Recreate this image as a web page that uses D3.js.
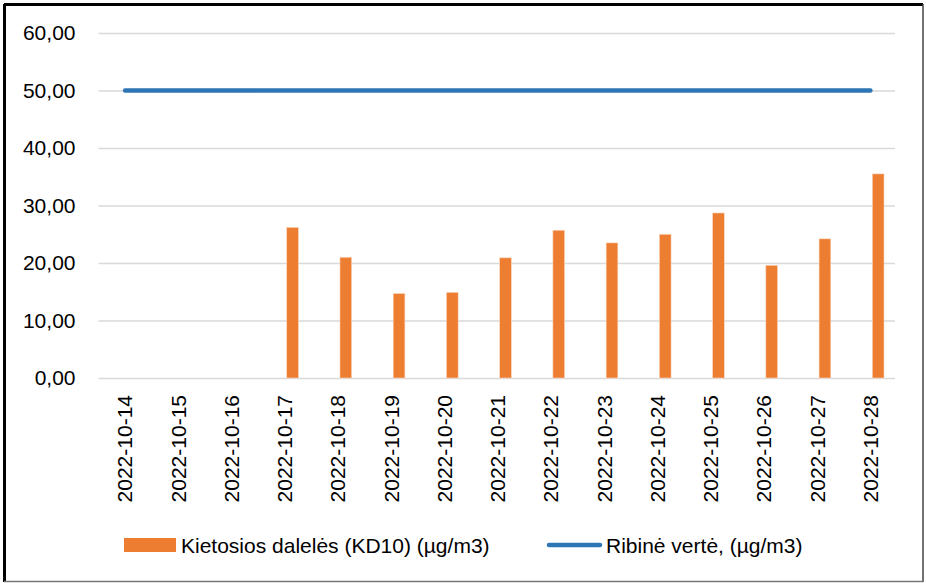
<!DOCTYPE html>
<html>
<head>
<meta charset="utf-8">
<script src="https://d3js.org/d3.v7.min.js"></script>
<style>
	body { margin: 0; background: #fff; }
	svg text { font-family: "Liberation Sans", Arial, sans-serif; fill: #000; }
</style>
</head>
<body>
<svg id="chart" width="926" height="583"></svg>
<script>
	// data
	var dates = ['2022-10-14', '2022-10-15', '2022-10-16', '2022-10-17', '2022-10-18',
		'2022-10-19', '2022-10-20', '2022-10-21', '2022-10-22', '2022-10-23',
		'2022-10-24', '2022-10-25', '2022-10-26', '2022-10-27', '2022-10-28'];
	var kd10 = [null, null, null, 26.2, 21.0, 14.7, 14.9, 20.9, 25.7, 23.5, 25.0, 28.7, 19.6, 24.2, 35.5];
	var limit = [50, 50, 50, 50, 50, 50, 50, 50, 50, 50, 50, 50, 50, 50, 50];
	var yTicks = [0, 10, 20, 30, 40, 50, 60];
	var barName = 'Kietosios dalelės (KD10) (µg/m3)';
	var lineName = 'Ribinė vertė, (µg/m3)';

	var svg = d3.select('#chart');

	var x = d3.scaleBand().domain(dates).range([98.5, 897]).padding(0);
	var y = d3.scaleLinear().domain([0, 60]).range([378, 33]);
	var fmt = function(v) { return d3.format('.2f')(v).replace('.', ','); };

	// frame
	svg.append('line').attr('x1', 4).attr('y1', 4.5).attr('x2', 923).attr('y2', 4.5)
		.attr('stroke', '#000').attr('stroke-width', 3);
	svg.append('line').attr('x1', 4.5).attr('y1', 4).attr('x2', 4.5).attr('y2', 582)
		.attr('stroke', '#000').attr('stroke-width', 3);
	svg.append('line').attr('x1', 923).attr('y1', 4).attr('x2', 923).attr('y2', 582)
		.attr('stroke', '#444').attr('stroke-width', 1.5);
	svg.append('line').attr('x1', 4).attr('y1', 581.5).attr('x2', 923).attr('y2', 581.5)
		.attr('stroke', '#777').attr('stroke-width', 1.5);

	// gridlines + y labels
	var yAxis = d3.axisLeft(y).tickValues(yTicks).tickFormat(fmt)
		.tickSize(-(895 - 98.5)).tickPadding(23);
	var yg = svg.append('g').attr('transform', 'translate(98.5,0)').call(yAxis);
	yg.select('.domain').remove();
	yg.selectAll('.tick line').attr('stroke', '#d9d9d9').attr('stroke-width', 1.5);
	yg.selectAll('.tick text').attr('font-size', 21)
		.style('font-family', '"Liberation Sans", Arial, sans-serif');

	// x labels
	var xAxis = d3.axisBottom(x).tickSize(0).tickPadding(0);
	var xg = svg.append('g').attr('transform', 'translate(0,378)').call(xAxis);
	xg.select('.domain').remove();
	xg.selectAll('.tick text')
		.attr('font-size', 21)
		.style('font-family', '"Liberation Sans", Arial, sans-serif')
		.attr('text-anchor', 'end')
		.attr('dy', '0.35em')
		.attr('transform', 'translate(0,17) rotate(-90)');

	// bars
	var bw = x.bandwidth();
	svg.append('g').selectAll('rect')
		.data(dates.map(function(d, i) { return { date: d, v: kd10[i] }; }).filter(function(d) { return d.v != null; }))
		.enter().append('rect')
		.attr('x', function(d) { return x(d.date) + bw * 0.536; })
		.attr('width', bw * 0.22)
		.attr('y', function(d) { return y(d.v); })
		.attr('height', function(d) { return y(0) - y(d.v); })
		.attr('fill', '#ED7D31')
		.attr('stroke', '#fbd9c4').attr('stroke-width', 0.6);

	// limit line
	var line = d3.line()
		.x(function(d, i) { return x(dates[i]) + bw / 2; })
		.y(function(d) { return y(d); });
	svg.append('path').datum(limit)
		.attr('d', line)
		.attr('fill', 'none')
		.attr('stroke', '#2E75B6')
		.attr('stroke-width', 4.5)
		.attr('stroke-linecap', 'round');

	// legend
	var lg = svg.append('g');
	lg.append('rect').attr('x', 124).attr('y', 538).attr('width', 52).attr('height', 14).attr('fill', '#ED7D31');
	lg.append('text').attr('x', 181).attr('y', 553).attr('font-size', 21).text(barName);
	lg.append('line').attr('x1', 549).attr('x2', 600).attr('y1', 545).attr('y2', 545)
		.attr('stroke', '#2E75B6').attr('stroke-width', 4.5).attr('stroke-linecap', 'round');
	lg.append('text').attr('x', 606).attr('y', 553).attr('font-size', 21).text(lineName);
</script>
</body>
</html>
